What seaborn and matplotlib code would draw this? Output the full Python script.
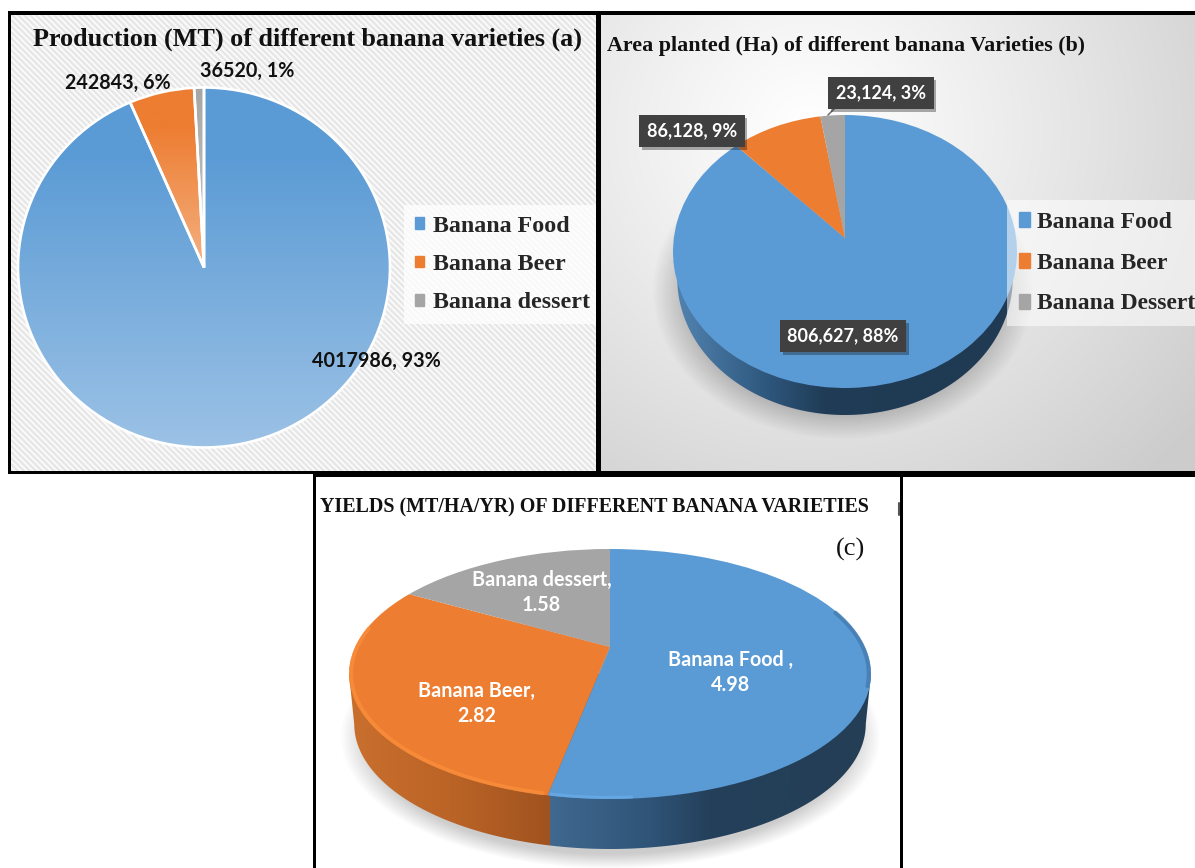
import numpy as np
import matplotlib
matplotlib.use("Agg")
import matplotlib.pyplot as plt
import matplotlib.patheffects as pe
from matplotlib.colors import to_rgb
from matplotlib.patches import Rectangle, Polygon, Patch
import seaborn as sns

W, H = 1195, 868

varieties_a = ["Banana Food", "Banana Beer", "Banana dessert"]
production = [4017986, 242843, 36520]
production_labels = ["4017986, 93%", "242843, 6%", "36520, 1%"]

varieties_b = ["Banana Food", "Banana Beer", "Banana Dessert"]
area = [806627, 86128, 23124]
area_labels = ["806,627, 88%", "86,128, 9%", "23,124, 3%"]

yield_values = [4.98, 2.82, 1.58]
yield_labels = ["Banana Food ,\n4.98", "Banana Beer,\n2.82", "Banana dessert,\n1.58"]

sns.set_theme(style="white")
plt.rcParams["font.family"] = ["Liberation Serif", "DejaVu Sans"]
colors = sns.color_palette(["#5B9BD5", "#ED7D31", "#A5A5A5"])
LABEL_FONT = ["Lato", "DejaVu Sans"]


def full_axes(zorder):
    ax = fig.add_axes([0, 0, 1, 1], zorder=zorder)
    ax.patch.set_alpha(0)
    ax.set_axis_off()
    return ax


def draw_pie(values, apex, rx, ry, offset, zorder, wedgeprops=None):
    """Pie seen in perspective: ellipse (rx, ry) whose centre sits offset px below the apex."""
    k = offset / ry
    sx = rx * np.sqrt(1 - k ** 2)
    sy = ry * (1 - k ** 2)
    ax = full_axes(zorder)
    wedges, _ = ax.pie(values, colors=colors, startangle=90, counterclock=False,
                       wedgeprops=wedgeprops or {"linewidth": 0})
    for w in wedges:
        p = w.get_path()
        v = p.vertices
        d = 1 + k * v[:, 1]
        p.vertices = np.c_[v[:, 0] / d, v[:, 1] / d]
    set_limits(ax, apex, sx, sy)
    return ax, wedges, k


def set_limits(ax, apex, sx, sy):
    ax.set_aspect("auto")
    ax.set_xlim(-apex[0] / sx, (W - apex[0]) / sx)
    ax.set_ylim((apex[1] - H) / sy, apex[1] / sy)


def ramp(stops, n=256):
    pos = np.linspace(0, 1, n)
    xs = [s[0] for s in stops]
    return np.stack([np.interp(pos, xs, [to_rgb(s[1])[i] for s in stops]) for i in range(3)], axis=-1)


def soft_ellipse(ax, cx, cy, rx, ry, alpha, soft=0.18):
    """Blurred shadow underneath a pie."""
    x = np.linspace(-1.4, 1.4, 300)
    xx, yy = np.meshgrid(x, x)
    r = np.hypot(xx, yy)
    a = np.clip((1 + soft - r) / (2 * soft), 0, 1) * alpha
    img = np.zeros((300, 300, 4))
    img[..., 3] = a
    ax.imshow(img, extent=(cx - 1.4 * rx, cx + 1.4 * rx, cy + 1.4 * ry, cy - 1.4 * ry),
              aspect="auto", zorder=2, interpolation="bilinear")


def wall(ax, cx, cy, rx, ry, depth, narrow, stops):
    """Side of the disc: horizontal colour ramp clipped to the lower outline."""
    t = np.linspace(np.pi, 0, 200)
    xs = cx + rx * narrow * np.cos(t)
    ys = cy + depth + ry * np.sin(t)
    outline = np.r_[[[cx - rx, cy]], np.c_[xs, ys], [[cx + rx, cy]]]
    clip = Polygon(outline, closed=True, transform=ax.transData, facecolor="none", edgecolor="none")
    ax.add_patch(clip)
    x0, x1 = cx - rx, cx + rx
    px = np.linspace(x0, x1, 700)
    img = np.stack([np.interp(px, [s[0] for s in stops], [to_rgb(s[1])[i] for s in stops])
                    for i in range(3)], axis=-1)[None, :, :]
    im = ax.imshow(img, extent=(x0, x1, cy + depth + ry, cy - 5), aspect="auto", zorder=3)
    im.set_clip_path(clip)


def rim(ax, k, start, end, color, lw, alpha=1.0):
    t = np.radians(np.linspace(start, end, 200))
    x, y = np.sin(t) * 0.992, np.cos(t) * 0.992
    d = 1 + k * y
    ax.plot(x / d, y / d, color=color, lw=lw, alpha=alpha, solid_capstyle="round")


fig = plt.figure(figsize=(W / 100, H / 100), dpi=100, facecolor="white")

back = full_axes(0)

# panel backgrounds
sx_a, sy_a = np.meshgrid(np.arange(10, 597), np.arange(14, 472))
stripes = 0.94 + 0.045 * np.cos(2 * np.pi * (sx_a - sy_a) / 6)
back.imshow(np.dstack([stripes] * 3), extent=(10, 597, 472, 14), aspect="auto", zorder=1, interpolation="nearest")
gx, gy = np.meshgrid(np.linspace(600, W, 300), np.linspace(14, 472, 240))
dist = np.hypot(gx - 810, (gy - 130) * 1.05) / 500
shade = 1 - 0.2 * np.clip(dist, 0, 1) ** 1.1
back.imshow(np.dstack([shade] * 3), extent=(600, W, 472, 14), aspect="auto", zorder=1)
back.add_patch(Rectangle((315, 475), 586, H - 475, facecolor="white", edgecolor="none", zorder=1))

# shadows and side walls
soft_ellipse(back, 843, 291, 174, 136, 0.22, soft=0.1)
wall(back, 845, 251.5, 172, 136.5, 27, 0.975,
     [(683, "#4F80AC"), (767, "#2E577D"), (825, "#203C56"), (1012, "#1F3A52")])
soft_ellipse(back, 610, 737, 256, 125, 0.2, soft=0.06)
wall(back, 610, 674, 261, 125, 50, 0.98,
     [(352, "#C96F2E"), (450, "#BB6427"), (549.5, "#A0531F"), (550.5, "#40698F"),
      (650, "#2F5478"), (710, "#24405A"), (870, "#243E56")])
back.set_xlim(0, W)
back.set_ylim(H, 0)

# (a) production
ax_a, wedges_a, _ = draw_pie(production, (204, 267.5), 186, 180, 0, 2)
ramps_a = [[(0, "#5B9BD5"), (0.2, "#5B9BD5"), (1, "#9EC3E6")],
           [(0, "#ED7D31"), (0.25, "#ED7D31"), (1, "#F4B183")],
           [(0, "#A5A5A5"), (1, "#C9C9C9")]]
extents_a = [(-1.05, 1.05, -1.05, 1.05), (-1.05, 1.05, 0, 1.05), (-1.05, 1.05, 0, 1.05)]
for w, stops, ext in zip(wedges_a, ramps_a, extents_a):
    im = ax_a.imshow(ramp(stops)[:, None, :], extent=ext, aspect="auto", zorder=2)
    im.set_clip_path(w)
ax_a.pie(production, colors=["none"] * 3, startangle=90, counterclock=False,
         wedgeprops={"edgecolor": "white", "linewidth": 1.9, "zorder": 3})
set_limits(ax_a, (204, 267.5), 186, 180)

# (b) area planted
draw_pie(area, (845, 238), 172, 136.5, 13.5, 2)

# (c) yields
ax_c, wedges_c, k_c = draw_pie(yield_values, (610, 647), 261, 125, 27, 2)
food_end = 360 * yield_values[0] / sum(yield_values)
beer_end = food_end + 360 * yield_values[1] / sum(yield_values)
rim(ax_c, k_c, food_end + 1, beer_end - 20, "#FA8F3C", 2.8, 0.75)
rim(ax_c, k_c, food_end - 15, food_end - 0.5, "#69ADE8", 2.2, 0.7)
rim(ax_c, k_c, 72, 108, "#3F77AB", 3, 0.7)
set_limits(ax_c, (610, 647), 261 * np.sqrt(1 - k_c ** 2), 125 * (1 - k_c ** 2))

# frames, text, legends
top = full_axes(5)

for x, y, w, h in [(8, 11, 3, 462), (8, 11, W - 8, 4), (596, 11, 5, 462), (8, 471, W - 8, 3),
                   (313, 471, W - 313, 6), (313, 471, 3, H - 471), (900, 471, 3, H - 471)]:
    top.add_patch(Rectangle((x, y), w, h, facecolor="black", edgecolor="none", zorder=6))
top.plot([899.5, 899.5], [503, 515], color="#555555", lw=1.5)

top.text(307.5, 39.5, "Production (MT) of different banana varieties (a)", fontsize=18.8,
         fontweight="bold", ha="center", va="center", color="#111111")
top.text(846, 46, "Area planted (Ha) of different banana Varieties (b)", fontsize=15.8,
         fontweight="bold", ha="center", va="center", color="#111111")
top.text(594.5, 507, "YIELDS (MT/HA/YR) OF DIFFERENT BANANA VARIETIES", fontsize=14.4,
         fontweight="bold", ha="center", va="center", color="#111111")
top.text(851, 549, "(c)", fontsize=19, ha="center", va="center", color="#111111")

for (x, y), text in zip([(376, 361), (117.5, 83), (247, 71)], production_labels):
    top.text(x, y, text, family=LABEL_FONT, fontsize=14.2, fontweight="bold", ha="center", va="center", color="#111111")

top.plot([828, 836], [115, 107], color="#777777", lw=1.2)
for (x, y), text in zip([(843, 336), (692, 131), (881, 93)], area_labels):
    t = top.text(x, y, text, family=LABEL_FONT, fontsize=13, fontweight="bold", ha="center", va="center",
                 color="white", zorder=7,
                 bbox={"boxstyle": "square,pad=0.42", "facecolor": "#404040", "edgecolor": "none"})
    t.get_bbox_patch().set_path_effects([pe.SimplePatchShadow(offset=(2, -2), alpha=0.35), pe.Normal()])

for (x, y), text in zip([(731, 672.5), (476.5, 703.5), (541.5, 592.5)], yield_labels):
    top.text(x, y, text, family=LABEL_FONT, fontsize=14.2, fontweight="bold", ha="center", va="center",
             color="white", linespacing=1.36)

legend_a = top.legend(handles=[Patch(color=c, label=n) for c, n in zip(colors, varieties_a)],
                      loc="upper left", bbox_to_anchor=(404, 205), bbox_transform=top.transData,
                      borderaxespad=0, prop={"weight": "bold", "size": 17.3},
                      handlelength=0.38, handleheight=0.38, handletextpad=0.36, labelspacing=0.72,
                      borderpad=0.45, frameon=True, facecolor="white", edgecolor="none", framealpha=0.75, fancybox=False)
top.add_artist(legend_a)
legend_b = top.legend(handles=[Patch(color=c, label=n) for c, n in zip(colors, varieties_b)],
                      loc="upper left", bbox_to_anchor=(1007, 200), bbox_transform=top.transData,
                      borderaxespad=0, prop={"weight": "bold", "size": 17},
                      handlelength=0.48, handleheight=0.6, handletextpad=0.28, labelspacing=0.84,
                      borderpad=0.5, frameon=True, facecolor="white", edgecolor="none", framealpha=0.55, fancybox=False)
top.set_xlim(0, W)
top.set_ylim(H, 0)

fig.savefig("out.png", dpi=100)
